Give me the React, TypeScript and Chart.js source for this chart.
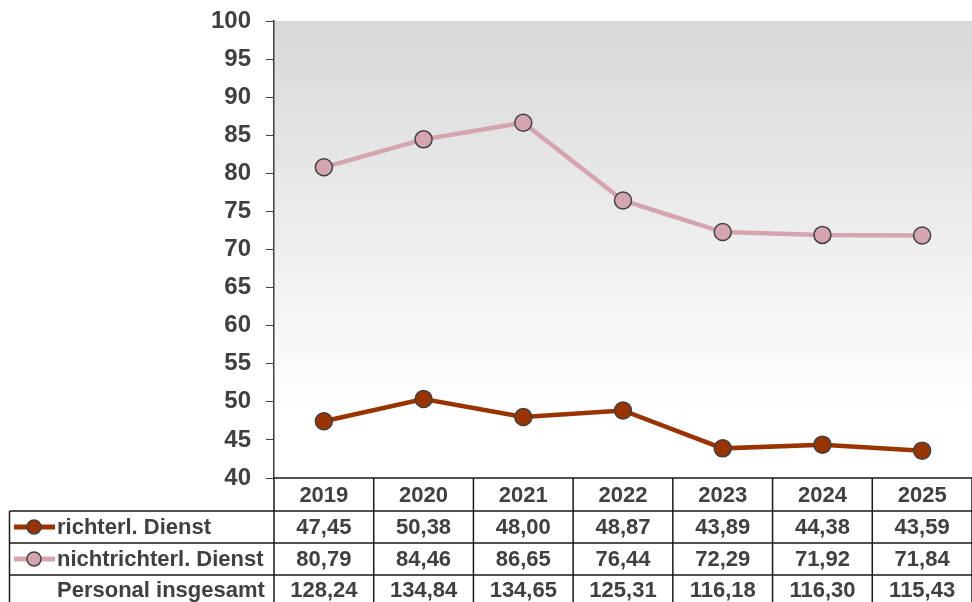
import React, { useEffect, useRef } from "react";
import { Chart, registerables } from "chart.js";

Chart.register(...registerables);

const years = ["2019", "2020", "2021", "2022", "2023", "2024", "2025"];
const richterl = [47.45, 50.38, 48.0, 48.87, 43.89, 44.38, 43.59];
const nichtrichterl = [80.79, 84.46, 86.65, 76.44, 72.29, 71.92, 71.84];
const gesamt = [128.24, 134.84, 134.65, 125.31, 116.18, 116.3, 115.43];
const seriesLabels = ["richterl. Dienst", "nichtrichterl. Dienst", "Personal insgesamt"];

const RUST = "#993300";
const PINK = "#d4a5ae";
const TEXT = "#404040";
const FONT = "'Liberation Sans', Arial, sans-serif";

const fmt = (v: number) => v.toFixed(2).replace(".", ",");

const bgPlugin = {
  id: "bgGradient",
  beforeDraw(chart: any) {
    const { ctx, chartArea } = chart;
    const g = ctx.createLinearGradient(0, chartArea.top, 0, chartArea.bottom);
    g.addColorStop(0, "#d8d8d8");
    g.addColorStop(0.85, "#ffffff");
    g.addColorStop(1, "#ffffff");
    ctx.save();
    ctx.fillStyle = g;
    ctx.fillRect(chartArea.left, chartArea.top, chartArea.right - chartArea.left, chartArea.bottom - chartArea.top);
    ctx.restore();
  },
};

const tablePlugin = {
  id: "dataTable",
  afterDraw(chart: any) {
    const { ctx, chartArea } = chart;
    const xs = chart.scales.x;
    const n = years.length;
    const left = chartArea.left;
    const right = chartArea.right;
    const colW = (right - left) / n;
    const top = chartArea.bottom;
    const rowTops = [top, top + 33, top + 65, top + 97];
    const tableLeft = 9.5;
    const bottom = chart.height;

    ctx.save();
    ctx.strokeStyle = "#1a1a1a";
    ctx.lineWidth = 1.5;
    ctx.beginPath();
    ctx.moveTo(left, rowTops[0]);
    ctx.lineTo(right, rowTops[0]);
    for (let r = 1; r < rowTops.length; r++) {
      ctx.moveTo(tableLeft, rowTops[r]);
      ctx.lineTo(right, rowTops[r]);
    }
    for (let i = 0; i <= n; i++) {
      const x = left + i * colW;
      ctx.moveTo(x, rowTops[0]);
      ctx.lineTo(x, bottom);
    }
    ctx.moveTo(tableLeft, rowTops[1]);
    ctx.lineTo(tableLeft, bottom);
    ctx.stroke();

    ctx.fillStyle = TEXT;
    ctx.font = `bold 22px ${FONT}`;
    ctx.textAlign = "center";
    ctx.textBaseline = "middle";
    const centers = [rowTops[0] + 17, rowTops[1] + 16, rowTops[2] + 16, rowTops[3] + 15];
    const rows = [years, richterl.map(fmt), nichtrichterl.map(fmt), gesamt.map(fmt)];
    rows.forEach((row, r) => {
      row.forEach((txt, i) => {
        ctx.fillText(txt, xs.getPixelForValue(i), centers[r] + 1);
      });
    });

    ctx.textAlign = "left";
    const colors = [RUST, PINK];
    for (let r = 0; r < 3; r++) {
      const cy = centers[r + 1];
      if (r < 2) {
        ctx.strokeStyle = colors[r];
        ctx.lineWidth = 5;
        ctx.beginPath();
        ctx.moveTo(14, cy);
        ctx.lineTo(55, cy);
        ctx.stroke();
        ctx.beginPath();
        ctx.arc(34, cy, 7, 0, Math.PI * 2);
        ctx.fillStyle = colors[r];
        ctx.fill();
        ctx.lineWidth = 1.5;
        ctx.strokeStyle = "#404040";
        ctx.stroke();
      }
      ctx.fillStyle = TEXT;
      ctx.fillText(seriesLabels[r], 57, cy + 1);
    }
    ctx.restore();
  },
};

export default function App() {
  const ref = useRef<HTMLCanvasElement>(null);

  useEffect(() => {
    document.body.style.margin = "0";
    const canvas = ref.current!;
    const chart = new Chart(canvas, {
      type: "line",
      data: {
        labels: years,
        datasets: [
          {
            label: seriesLabels[0],
            data: richterl,
            borderColor: RUST,
            backgroundColor: RUST,
            borderWidth: 4.5,
            pointRadius: 8.5,
            pointBackgroundColor: RUST,
            pointBorderColor: "#404040",
            pointBorderWidth: 1.5,
            tension: 0,
          },
          {
            label: seriesLabels[1],
            data: nichtrichterl,
            borderColor: PINK,
            backgroundColor: PINK,
            borderWidth: 4.5,
            pointRadius: 8.5,
            pointBackgroundColor: PINK,
            pointBorderColor: "#404040",
            pointBorderWidth: 1.5,
            tension: 0,
          },
        ],
      },
      options: {
        responsive: false,
        animation: false,
        layout: { autoPadding: false, padding: { left: 0, right: 0, top: 21, bottom: 124 } },
        plugins: { legend: { display: false }, tooltip: { enabled: false } },
        scales: {
          x: { display: false, offset: true },
          y: {
            min: 40,
            max: 100,
            afterFit: (s: any) => {
              s.width = 274;
              s.paddingTop = 0;
              s.paddingBottom = 0;
            },
            ticks: {
              stepSize: 5,
              padding: 15,
              color: TEXT,
              font: { family: FONT, size: 24, weight: "bold" },
            },
            grid: { drawOnChartArea: false, drawTicks: true, tickLength: 8, color: "#404040" },
            border: { display: true, color: "#404040", width: 1.5 },
          },
        },
      },
      plugins: [bgPlugin, tablePlugin],
    });
    return () => chart.destroy();
  }, []);

  return <canvas ref={ref} width={972} height={602} style={{ display: "block" }} />;
}
